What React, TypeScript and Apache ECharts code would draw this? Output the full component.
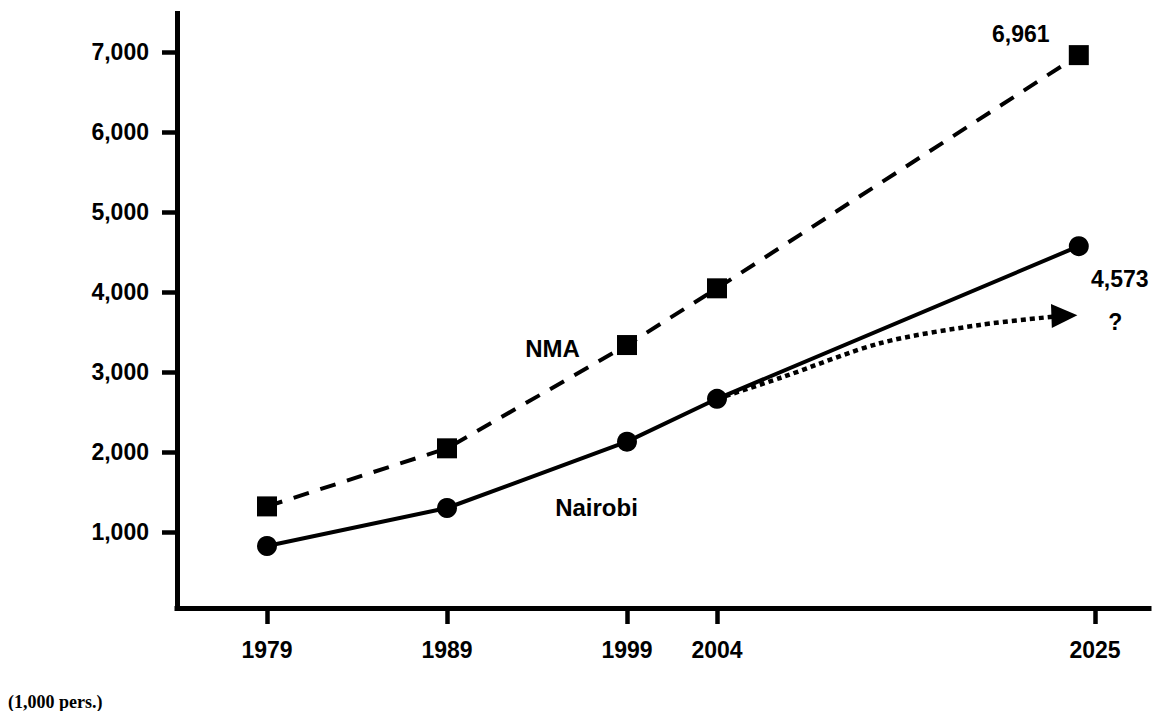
import React, { useEffect, useRef } from 'react';
import * as echarts from 'echarts';

// Axis ticks
const tickYears = [1979, 1989, 1999, 2004, 2025];
const yTicks = [1000, 2000, 3000, 4000, 5000, 6000, 7000];

// Data points (x as drawn: the 2025 points sit slightly left of the 2025 tick)
const pointYears = [1979, 1989, 1999, 2004, 2024.1];
const nmaValues = [1320, 2046, 3337, 4046, 6961];
const nairobiValues = [825, 1300, 2129, 2665, 4573];

// Dotted "?" projection from 2004
const trendYears = [2004, 2007.5, 2013.1, 2018.6, 2023.3];
const trendValues = [2665, 2925, 3362, 3588, 3705];

const FONT = 'Liberation Sans, Arial, sans-serif';

export default function App() {
  const ref = useRef<HTMLDivElement>(null);

  useEffect(() => {
    if (!ref.current) return;
    const chart = echarts.init(ref.current, null, { renderer: 'svg' });
    const last = pointYears.length - 1;

    const nmaData = pointYears.map((x, i) =>
      i === last
        ? {
            value: [x, nmaValues[i]],
            label: {
              show: true,
              position: 'inside',
              offset: [-58, -21],
              formatter: () => nmaValues[i].toLocaleString('en-US'),
              color: '#000',
              fontFamily: FONT,
              fontWeight: 'bold',
              fontSize: 23,
            },
          }
        : { value: [x, nmaValues[i]] }
    );
    const nairobiData = pointYears.map((x, i) =>
      i === last
        ? {
            value: [x, nairobiValues[i]],
            label: {
              show: true,
              position: 'inside',
              offset: [41, 33],
              formatter: () => nairobiValues[i].toLocaleString('en-US'),
              color: '#000',
              fontFamily: FONT,
              fontWeight: 'bold',
              fontSize: 23,
            },
          }
        : { value: [x, nairobiValues[i]] }
    );
    const tLast = trendYears.length - 1;
    const trendData = trendYears.map((x, i) =>
      i === tLast
        ? {
            value: [x, trendValues[i]],
            symbol: 'triangle',
            symbolSize: [24, 26],
            symbolRotate: -88,
            itemStyle: { color: '#000' },
            label: {
              show: true,
              position: 'inside',
              offset: [51, 6],
              formatter: () => '?',
              color: '#000',
              fontFamily: FONT,
              fontWeight: 'bold',
              fontSize: 23,
            },
          }
        : { value: [x, trendValues[i]], symbol: 'none' }
    );

    const labelStyle = {
      color: '#000',
      fontFamily: FONT,
      fontWeight: 'bold' as const,
      fontSize: 23,
    };

    chart.setOption({
      animation: false,
      backgroundColor: '#fff',
      grid: { left: 177, right: 17, top: 13.6, bottom: 103, containLabel: false },
      xAxis: {
        type: 'value',
        min: 1974,
        max: 2028,
        splitLine: { show: false },
        axisLine: { show: true, lineStyle: { color: '#000', width: 5, cap: 'square' } },
        axisTick: {
          show: true,
          customValues: tickYears,
          length: 16,
          lineStyle: { color: '#000', width: 4.5 },
        },
        axisLabel: {
          ...labelStyle,
          customValues: tickYears,
          margin: 30,
          formatter: (v: number) => String(v),
        },
      },
      yAxis: {
        type: 'value',
        min: 50,
        max: 7480,
        splitLine: { show: false },
        axisLine: { show: true, lineStyle: { color: '#000', width: 5, cap: 'square' } },
        axisTick: {
          show: true,
          customValues: yTicks,
          length: 15,
          lineStyle: { color: '#000', width: 4.5 },
        },
        axisLabel: {
          ...labelStyle,
          customValues: yTicks,
          margin: 28,
          formatter: (v: number) => v.toLocaleString('en-US'),
        },
      },
      series: [
        {
          name: 'Projection',
          type: 'line',
          data: trendData,
          smooth: 0.3,
          showSymbol: true,
          lineStyle: { color: '#000', width: 4.5, type: [5, 4] },
          itemStyle: { color: '#000' },
          z: 2,
        },
        {
          name: 'NMA',
          type: 'line',
          data: nmaData,
          symbol: 'rect',
          symbolSize: 20,
          lineStyle: { color: '#000', width: 4, type: [16, 12] },
          itemStyle: { color: '#000' },
          z: 3,
        },
        {
          name: 'Nairobi',
          type: 'line',
          data: nairobiData,
          symbol: 'circle',
          symbolSize: 20,
          lineStyle: { color: '#000', width: 4 },
          itemStyle: { color: '#000' },
          z: 4,
        },
      ],
      graphic: [
        {
          type: 'text',
          x: 552.5,
          y: 348,
          style: {
            text: 'NMA',
            fill: '#000',
            font: `bold 24px ${FONT}`,
            textAlign: 'center',
            textVerticalAlign: 'middle',
          },
        },
        {
          type: 'text',
          x: 596.5,
          y: 507,
          style: {
            text: 'Nairobi',
            fill: '#000',
            font: `bold 24px ${FONT}`,
            textAlign: 'center',
            textVerticalAlign: 'middle',
          },
        },
        {
          type: 'text',
          x: 8,
          y: 702,
          style: {
            text: '(1,000 pers.)',
            fill: '#000',
            font: 'bold 18px "Liberation Serif", "Times New Roman", serif',
            textAlign: 'left',
            textVerticalAlign: 'middle',
          },
        },
      ],
    });

    return () => chart.dispose();
  }, []);

  return (
    <div
      ref={ref}
      style={{ position: 'fixed', left: 0, top: 0, width: 1166, height: 711, background: '#fff' }}
    />
  );
}
